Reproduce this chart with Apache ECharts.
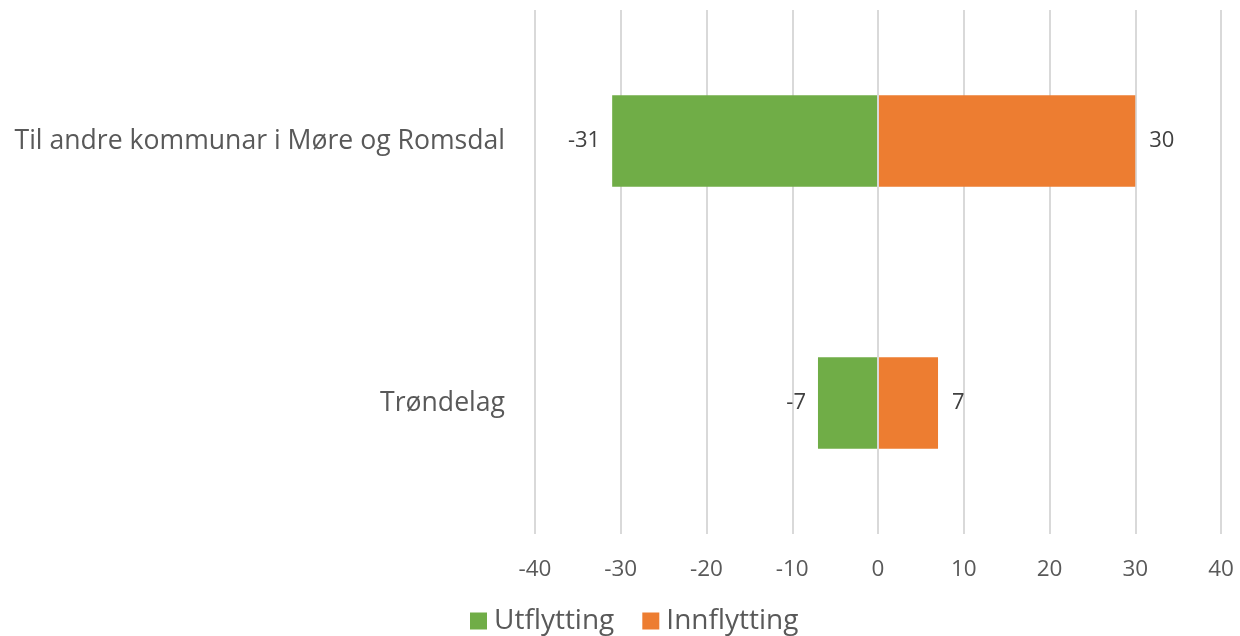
<!DOCTYPE html>
<html><head><meta charset="utf-8">
<script src="https://cdn.jsdelivr.net/npm/echarts@6/dist/echarts.min.js"></script>
<style>html,body{margin:0;padding:0;background:#fff}#c{width:1240px;height:636px}</style>
</head><body><div id="c"></div>
<script>
const categories = ['Til andre kommunar i Møre og Romsdal', 'Trøndelag'];
const utflytting = [-31, -7];
const innflytting = [30, 7];
const xTicks = { min: -40, max: 40, interval: 10 };

const font = 'Open Sans';
const chart = echarts.init(document.getElementById('c'), null, { renderer: 'canvas' });
chart.setOption({
  animation: false,
  textStyle: { fontFamily: font },
  grid: { left: 535, right: 19, top: 10, bottom: 102, containLabel: false },
  legend: {
    bottom: -4, left: 465, itemWidth: 17, itemHeight: 17, itemGap: 28,
    icon: 'rect',
    textStyle: { fontSize: 28, color: '#595959', fontFamily: font, padding: [0, 0, 0, 2] },
    data: ['Utflytting', 'Innflytting']
  },
  xAxis: {
    type: 'value', min: xTicks.min, max: xTicks.max, interval: xTicks.interval,
    axisLine: { show: false }, axisTick: { show: false },
    axisLabel: { fontSize: 22.5, color: '#595959', margin: 24, fontFamily: font },
    splitLine: { lineStyle: { color: '#d9d9d9', width: 2 } }
  },
  yAxis: {
    type: 'category', data: categories, inverse: true,
    axisLine: { show: false }, axisTick: { show: false },
    axisLabel: { fontSize: 26.6, color: '#595959', margin: 30, fontFamily: font }
  },
  series: [
    {
      name: 'Utflytting', type: 'bar', stack: 'a', data: utflytting, barWidth: '35%',
      itemStyle: { color: '#70ad47' },
      label: { show: true, position: 'left', distance: 12, fontSize: 22, color: '#404040', fontFamily: font },
      markLine: { silent: true, symbol: 'none', label: { show: false },
        lineStyle: { color: '#d9d9d9', width: 2, type: 'solid' }, data: [{ xAxis: 0 }] }
    },
    {
      name: 'Innflytting', type: 'bar', stack: 'a', data: innflytting, barWidth: '35%',
      itemStyle: { color: '#ed7d31' },
      label: { show: true, position: 'right', distance: 14, fontSize: 22, color: '#404040', fontFamily: font }
    }
  ]
});
</script></body></html>
